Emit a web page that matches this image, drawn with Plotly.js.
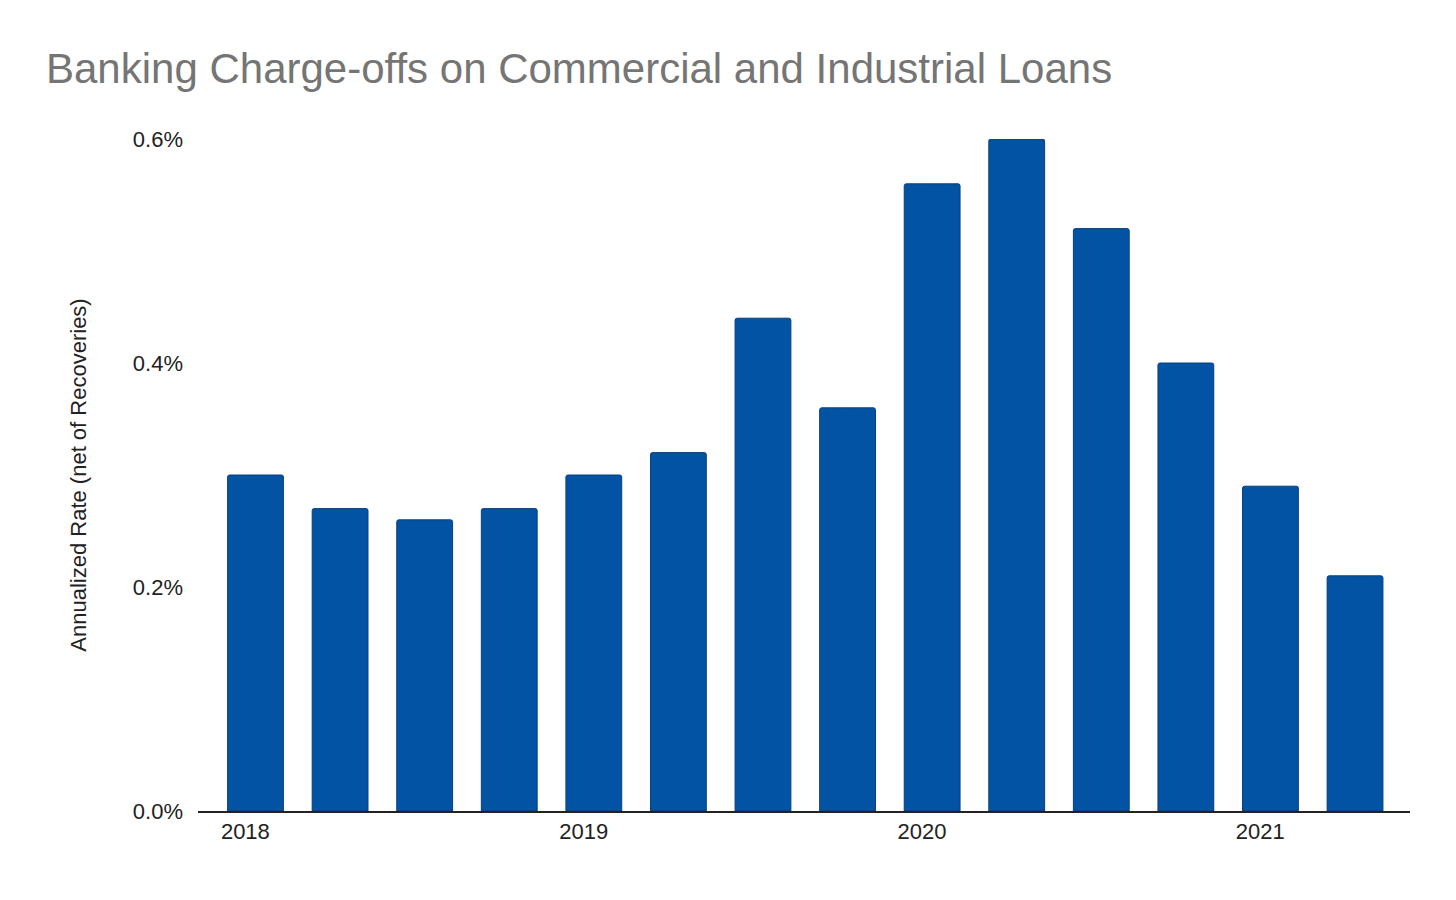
<!DOCTYPE html>
<html>
<head>
<meta charset="utf-8">
<script src="https://cdn.plot.ly/plotly-3.0.1.min.js"></script>
<style>body{margin:0;background:#fff}#chart{width:1456px;height:900px}</style>
</head>
<body>
<div id="chart"></div>
<script>
const quarters = ["2018 Q1","2018 Q2","2018 Q3","2018 Q4","2019 Q1","2019 Q2","2019 Q3","2019 Q4",
  "2020 Q1","2020 Q2","2020 Q3","2020 Q4","2021 Q1","2021 Q2"];
const rates = [0.0030,0.0027,0.0026,0.0027,0.0030,0.0032,0.0044,0.0036,0.0056,0.0060,0.0052,0.0040,0.0029,0.0021];
const yearTickIdx = [0,4,8,12];
const yearLabels = ["2018","2019","2020","2021"];

const trace = {
  type: "bar",
  x: quarters.map((q, i) => i),
  y: rates,
  text: quarters,
  hoverinfo: "text+y",
  textposition: "none",
  marker: { color: "#0353a4", line: { color: "#0a3f7a", width: 1 }, cornerradius: 2 },
};

const layout = {
  width: 1456, height: 900,
  paper_bgcolor: "#fff", plot_bgcolor: "#fff",
  font: { family: "Liberation Sans, Arial, sans-serif", color: "#222", size: 22 },
  margin: { l: 198, r: 46, t: 139, b: 89 },
  bargap: 0.34,
  showlegend: false,
  title: {
    text: "Banking Charge-offs on Commercial and Industrial Loans",
    font: { size: 42, color: "#757575" },
    x: 0, xref: "paper", xanchor: "left", y: 0.924, yanchor: "middle",
    pad: { l: -152 },
  },
  xaxis: {
    range: [-0.68, 13.65],
    tickvals: yearTickIdx.map((i) => i - 0.12),
    ticktext: yearLabels,
    showgrid: false, zeroline: false,
    showline: true, linecolor: "#222", linewidth: 2,
    ticks: "", ticklen: 0,
    tickfont: { size: 22 },
  },
  yaxis: {
    range: [0, 0.006],
    tickvals: [0, 0.002, 0.004, 0.006],
    tickformat: ".1%",
    showgrid: false, zeroline: false, showline: false,
    ticks: "", ticklabelstandoff: 14,
    title: { text: "Annualized Rate (net of Recoveries)", font: { size: 22 }, standoff: 40 },
  },
};

Plotly.newPlot("chart", [trace], layout, { displayModeBar: false, staticPlot: true });
</script>
</body>
</html>
